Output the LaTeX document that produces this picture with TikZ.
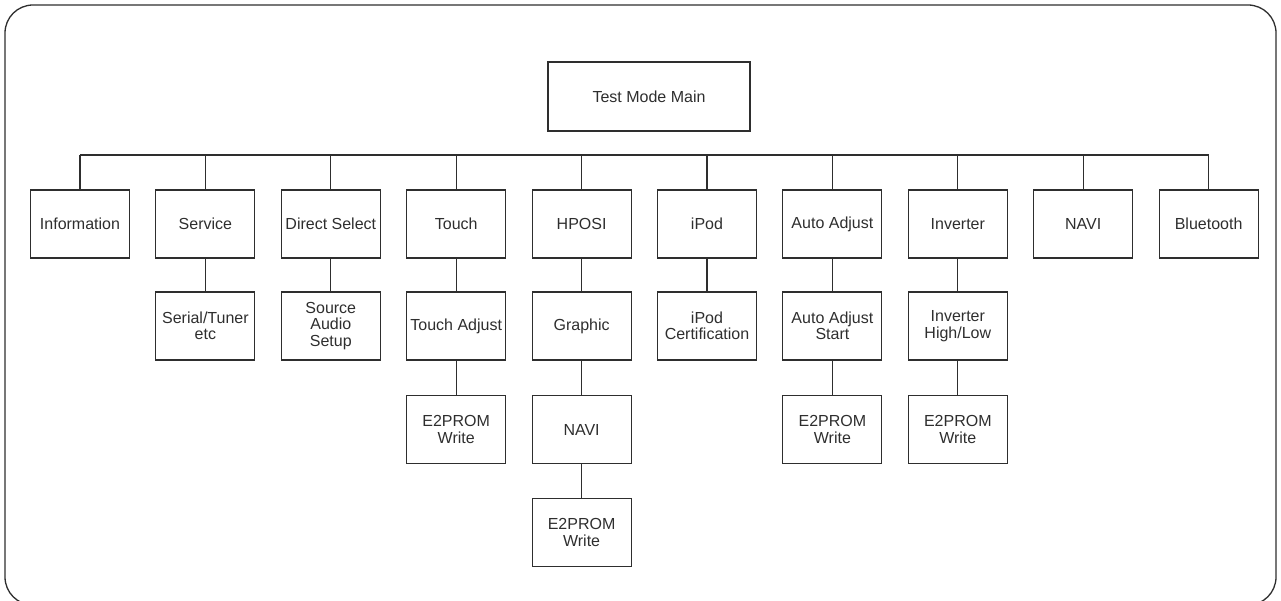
\documentclass[tikz,border=0pt]{standalone}
\usepackage{fontspec}
\setmainfont{Liberation Sans}
\definecolor{ink}{gray}{0.18}
\begin{document}
\begin{tikzpicture}[x=1pt,y=-1pt,
  line width=1.1pt, draw=ink,
  boxnode/.style={draw=ink, line width=1.1pt, minimum width=99pt, minimum height=68pt, inner sep=0pt, align=center, text=ink, font=\fontsize{16}{16.5}\selectfont},
  link/.style={draw=ink, line width=1.1pt}]
\useasboundingbox (0,0) rectangle (1281,601);
\draw[ink, line width=1.3pt, rounded corners=28pt] (5,5) rectangle (1276,605);

\node[boxnode, minimum width=202pt, minimum height=69pt] (main) at (649,96.5) {Test Mode Main};

\node[boxnode] (info) at (80,224) {Information};
\node[boxnode] (serv) at (205.4,224) {Service};
\node[boxnode] (dsel) at (330.8,224) {Direct Select};
\node[boxnode] (touch) at (456.2,224) {Touch};
\node[boxnode] (hposi) at (581.6,224) {HPOSI};
\node[boxnode] (ipod) at (707,224) {iPod};
\node[boxnode] (auto) at (832.4,224) {Auto Adjust};
\node[boxnode] (inv) at (957.8,224) {Inverter};
\node[boxnode] (navi) at (1083.2,224) {NAVI};
\node[boxnode] (bt) at (1208.6,224) {Bluetooth};

\node[boxnode] (serial) at (205.4,326) {Serial/Tuner\\etc};
\node[boxnode] (source) at (330.8,326) {Source\\Audio\\Setup};
\node[boxnode] (tadj) at (456.2,326) {Touch Adjust};
\node[boxnode] (graphic) at (581.6,326) {Graphic};
\node[boxnode] (ipodc) at (707,326) {iPod\\Certification};
\node[boxnode] (autos) at (832.4,326) {Auto Adjust\\Start};
\node[boxnode] (invhl) at (957.8,326) {Inverter\\High/Low};

\node[boxnode] (tw) at (456.2,429.5) {E2PROM\\Write};
\node[boxnode] (hnavi) at (581.6,429.5) {NAVI};
\node[boxnode] (aw) at (832.4,429.5) {E2PROM\\Write};
\node[boxnode] (iw) at (957.8,429.5) {E2PROM\\Write};

\node[boxnode] (hw) at (581.6,532.5) {E2PROM\\Write};

\coordinate (busL) at (80,155);
\coordinate (busR) at (1208.6,155);
\draw[link] (busL) -- (busR);
\foreach \n in {info,serv,dsel,touch,hposi,ipod,auto,inv,navi,bt}
  \draw[link] (\n.north) -- (\n.north |- busL);

\draw[link] (serv) -- (serial);
\draw[link] (dsel) -- (source);
\draw[link] (touch) -- (tadj);
\draw[link] (tadj) -- (tw);
\draw[link] (hposi) -- (graphic);
\draw[link] (graphic) -- (hnavi);
\draw[link] (hnavi) -- (hw);
\draw[link] (ipod) -- (ipodc);
\draw[link] (auto) -- (autos);
\draw[link] (autos) -- (aw);
\draw[link] (inv) -- (invhl);
\draw[link] (invhl) -- (iw);
\end{tikzpicture}
\end{document}
